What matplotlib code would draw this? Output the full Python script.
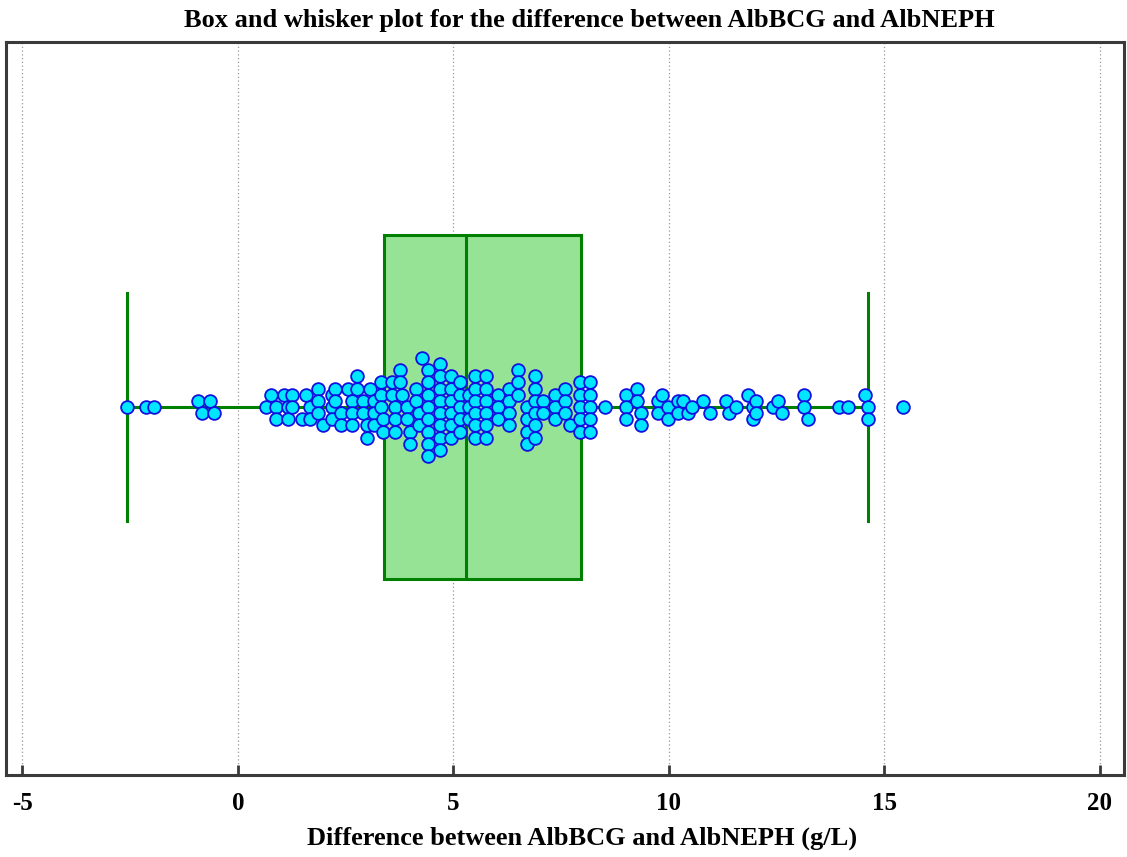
import numpy as np
import matplotlib
matplotlib.use("Agg")
import matplotlib.pyplot as plt

# differences AlbBCG - AlbNEPH (g/L)
diff = [
    -2.58, -2.14, -1.95, -0.93, -0.84, -0.65, -0.56,
    0.65, 0.77, 0.88, 0.88, 1.07, 1.16, 1.16, 1.25, 1.25, 1.48, 1.58, 1.67, 1.67,
    1.86, 1.86, 1.86, 1.97, 2.18, 2.18, 2.18, 2.25, 2.25, 2.39, 2.39,
    2.55, 2.65, 2.65, 2.65, 2.76, 2.76, 2.90, 2.90, 2.99, 2.99, 3.06,
    3.16, 3.16, 3.16, 3.32, 3.32, 3.32, 3.36, 3.36,
    3.57, 3.57, 3.64, 3.64, 3.64, 3.76, 3.76, 3.81, 3.92, 3.92, 3.99, 3.99,
    4.13, 4.13, 4.20, 4.20, 4.27,
    4.41, 4.41, 4.41, 4.41, 4.41, 4.41, 4.41, 4.41,
    4.69, 4.69, 4.69, 4.69, 4.69, 4.69, 4.69, 4.69,
    4.94, 4.94, 4.94, 4.94, 4.94, 4.94, 5.15, 5.15, 5.15, 5.15, 5.15,
    5.36, 5.36, 5.36, 5.50, 5.50, 5.50, 5.50, 5.50, 5.50,
    5.75, 5.75, 5.75, 5.75, 5.75, 5.75, 6.03, 6.03, 6.03,
    6.30, 6.30, 6.30, 6.30, 6.50, 6.50, 6.50, 6.70, 6.70, 6.70, 6.70,
    6.89, 6.89, 6.89, 6.89, 6.89, 6.89, 7.08, 7.08, 7.35, 7.35, 7.35,
    7.59, 7.59, 7.59, 7.70, 7.93, 7.93, 7.93, 7.93, 7.93,
    8.17, 8.17, 8.17, 8.17, 8.17, 8.52,
    9.00, 9.00, 9.00, 9.26, 9.26, 9.35, 9.35, 9.74, 9.74, 9.84, 9.98, 9.98,
    10.21, 10.21, 10.32, 10.44, 10.53, 10.79, 10.95, 11.32, 11.39, 11.55,
    11.83, 11.95, 11.95, 12.02, 12.02, 12.41, 12.53, 12.62, 13.13, 13.13, 13.22,
    13.94, 14.15, 14.55, 14.62, 14.62, 15.43,
]

# box summary (g/L)
whisker_lo, q1, median, q3, whisker_hi = -2.58, 3.39, 5.29, 7.96, 14.62

xticks = [-5, 0, 5, 10, 15, 20]
title = "Box and whisker plot for the difference between AlbBCG and AlbNEPH"
xlabel = "Difference between AlbBCG and AlbNEPH (g/L)"

GREEN = "#008000"
FRAME = "#3a3a3a"
serif = {"family": "Liberation Serif", "weight": "bold"}
BIN = 0.25      # g/L per stacking column
STEP = 12.3     # vertical spacing of stacked dots, px


def stack_offsets(vals, binw, step):
    """Stack points sharing a bin vertically, centred on the axis line."""
    vals = np.asarray(vals)
    bins = np.floor(vals / binw + 1e-9).astype(int)
    off = np.zeros(len(vals))
    for b in np.unique(bins):
        idx = np.where(bins == b)[0]
        idx = idx[np.argsort(vals[idx], kind="stable")]
        n = len(idx)
        for k, i in enumerate(idx):
            off[i] = ((n - 1) / 2 - k) * step
    return off


fig = plt.figure(figsize=(11.27, 8.57), dpi=100)
ax = fig.add_axes([6 / 1127, 1 - 775 / 857, 1118 / 1127, 733 / 857])
ax.set_xlim(-5.38, 20.56)
ax.set_ylim(0, 1)
yc = 0.502

stats = [dict(med=median, q1=q1, q3=q3, whislo=whisker_lo, whishi=whisker_hi, fliers=[])]
ax.bxp(stats, positions=[yc], widths=0.47, capwidths=0.31, orientation="horizontal",
       patch_artist=True, showfliers=False,
       boxprops=dict(facecolor="#96e396", edgecolor=GREEN, linewidth=2.2),
       medianprops=dict(color=GREEN, linewidth=2.2),
       whiskerprops=dict(color=GREEN, linewidth=2.2),
       capprops=dict(color=GREEN, linewidth=2.2), zorder=2)

# dot stack of the individual differences
x = np.array(diff)
pix = ax.transData.transform(np.column_stack([x, np.full_like(x, yc)]))
off = stack_offsets(x, BIN, STEP)
pts = ax.transData.inverted().transform(np.column_stack([pix[:, 0], pix[:, 1] + off]))
ax.scatter(x, pts[:, 1], s=84, facecolor="#00e6ff", edgecolor="#1010e0",
           linewidth=1.3, zorder=3, clip_on=False)

ax.set_xticks(xticks)
ax.set_xticklabels([str(t) for t in xticks], fontdict=dict(serif, size=18))
ax.set_yticks([])
ax.grid(axis="x", color="#999999", ls=(0, (1, 2)), lw=0.9, zorder=0)
ax.set_axisbelow(True)
ax.tick_params(axis="x", direction="in", length=7, width=2, color=FRAME, pad=12)
for s in ax.spines.values():
    s.set_color(FRAME)
    s.set_linewidth(2.2)

ax.set_title(title, fontdict=dict(serif, size=19), x=0.522, pad=11)
ax.set_xlabel(xlabel, fontdict=dict(serif, size=19))
ax.xaxis.set_label_coords(0.515, -0.070)

fig.savefig("out.png", dpi=100)
